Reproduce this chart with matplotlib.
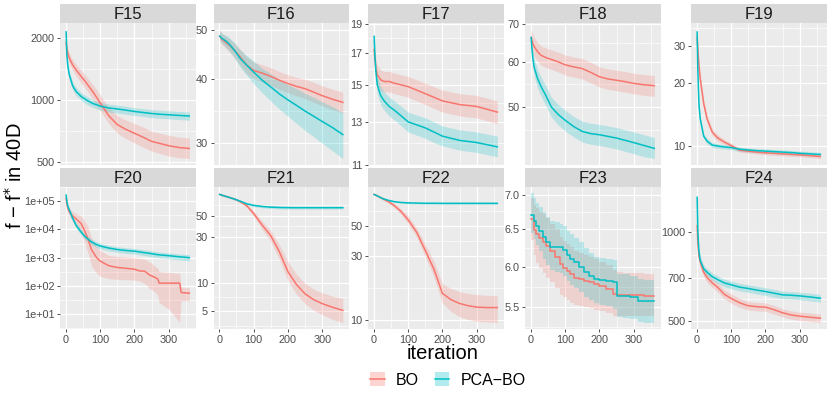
"""
BO vs PCA-BO convergence on F15-F24 (40D), facet grid in ggplot style.
"""
import numpy as np
import matplotlib.pyplot as plt
from matplotlib.lines import Line2D
from matplotlib.patches import Patch
from matplotlib.ticker import FixedLocator, NullFormatter

plt.rcParams['font.family'] = ['Liberation Sans', 'DejaVu Sans']

BO_COLOR = '#F8766D'
PCA_COLOR = '#00BFC4'

# common iteration grid used for most panels
ITER = [1, 3, 6, 10, 20, 30, 45, 60, 80, 100, 125, 150, 175, 200, 225, 250, 275, 300, 330, 360]

# ---- F15
F15_bo = [1900, 1780, 1680, 1600, 1480, 1400, 1300, 1210, 1090, 970, 840, 760, 720, 690, 660, 630, 615, 600, 588, 582]
F15_bo_lo = [1800, 1690, 1590, 1510, 1390, 1310, 1210, 1120, 1000, 890, 770, 690, 650, 620, 590, 565, 550, 535, 525, 520]
F15_bo_hi = [2000, 1870, 1770, 1690, 1570, 1490, 1390, 1300, 1180, 1060, 920, 840, 800, 770, 740, 705, 690, 675, 660, 655]
F15_pca = [2140, 1650, 1450, 1330, 1170, 1100, 1040, 1000, 960, 935, 915, 905, 893, 880, 870, 860, 853, 848, 842, 836]
F15_pca_lo = [2080, 1580, 1380, 1270, 1120, 1050, 995, 955, 920, 895, 875, 865, 853, 842, 832, 822, 815, 810, 804, 798]
F15_pca_hi = [2200, 1720, 1520, 1390, 1220, 1150, 1085, 1045, 1000, 975, 955, 945, 933, 918, 908, 898, 891, 886, 880, 874]

# ---- F16
F16_bo = [48.6, 48.4, 48.1, 47.8, 47.2, 46.6, 45.5, 44.3, 42.6, 41.6, 41.1, 40.5, 39.8, 39.2, 38.7, 38.3, 37.7, 37.1, 36.5, 36.0]
F16_bo_lo = [47.6, 47.3, 47.0, 46.6, 45.9, 45.2, 44.0, 42.7, 41.0, 40.0, 39.5, 38.9, 38.2, 37.6, 37.1, 36.6, 36.0, 35.4, 34.8, 34.3]
F16_bo_hi = [50.1, 49.8, 49.4, 49.0, 48.5, 48.0, 47.0, 45.9, 44.2, 43.2, 42.7, 42.1, 41.4, 40.8, 40.3, 40.0, 39.4, 38.8, 38.2, 37.7]
F16_pca = [48.6, 48.5, 48.2, 48.0, 47.5, 46.8, 45.5, 44.0, 42.6, 41.3, 39.8, 38.6, 37.4, 36.4, 35.5, 34.6, 33.8, 33.0, 32.1, 31.1]
F16_pca_lo = [47.8, 47.6, 47.2, 46.9, 46.2, 45.4, 43.9, 42.3, 40.7, 39.2, 37.6, 36.2, 34.9, 33.8, 32.7, 31.7, 30.8, 29.9, 28.9, 27.9]
F16_pca_hi = [50.0, 49.8, 49.4, 49.1, 48.8, 48.2, 47.1, 45.7, 44.5, 43.4, 42.0, 41.0, 39.9, 39.0, 38.3, 37.5, 36.8, 36.1, 35.3, 34.4]

# ---- F17
F17_bo = [17.2, 16.6, 16.0, 15.6, 15.3, 15.2, 15.2, 15.1, 15.0, 14.9, 14.7, 14.5, 14.3, 14.1, 14.0, 13.9, 13.85, 13.8, 13.65, 13.5]
F17_bo_lo = [16.6, 16.0, 15.4, 15.0, 14.7, 14.6, 14.6, 14.5, 14.4, 14.3, 14.1, 13.9, 13.7, 13.5, 13.4, 13.3, 13.25, 13.2, 13.05, 12.9]
F17_bo_hi = [17.8, 17.2, 16.6, 16.2, 15.9, 15.8, 15.8, 15.7, 15.6, 15.5, 15.3, 15.1, 14.9, 14.7, 14.6, 14.5, 14.45, 14.4, 14.25, 14.1]
F17_pca = [18.1, 16.8, 15.8, 15.0, 14.4, 14.1, 13.8, 13.6, 13.3, 13.0, 12.85, 12.7, 12.5, 12.3, 12.2, 12.1, 12.05, 12.0, 11.9, 11.8]
F17_pca_lo = [17.6, 16.3, 15.3, 14.5, 13.9, 13.6, 13.3, 13.1, 12.8, 12.5, 12.35, 12.2, 12.0, 11.85, 11.75, 11.65, 11.6, 11.55, 11.45, 11.35]
F17_pca_hi = [18.6, 17.3, 16.3, 15.5, 14.9, 14.6, 14.3, 14.1, 13.8, 13.5, 13.35, 13.2, 13.0, 12.8, 12.7, 12.6, 12.55, 12.5, 12.4, 12.3]

# ---- F18
F18_bo = [66.2, 65.5, 64.6, 63.8, 62.5, 61.6, 61.0, 60.6, 60.0, 59.3, 58.8, 58.4, 57.5, 56.5, 56.0, 55.7, 55.4, 55.0, 54.7, 54.5]
F18_bo_lo = [64.0, 63.2, 62.2, 61.4, 60.1, 59.2, 58.6, 58.2, 57.6, 56.9, 56.4, 56.0, 55.1, 54.2, 53.7, 53.4, 53.1, 52.7, 52.4, 52.2]
F18_bo_hi = [68.4, 67.8, 67.0, 66.2, 64.9, 64.0, 63.4, 63.0, 62.4, 61.7, 61.2, 60.8, 59.9, 58.8, 58.3, 58.0, 57.7, 57.3, 57.0, 56.8]
F18_pca = [66.2, 63.5, 60.8, 58.6, 56.0, 54.3, 52.2, 50.0, 48.5, 47.4, 46.2, 45.3, 44.9, 44.7, 44.4, 44.1, 43.7, 43.3, 42.8, 42.3]
F18_pca_lo = [65.0, 62.0, 59.0, 56.6, 53.9, 52.2, 50.1, 48.0, 46.5, 45.4, 44.3, 43.4, 43.0, 42.8, 42.5, 42.2, 41.8, 41.4, 40.9, 40.6]
F18_pca_hi = [67.4, 65.0, 62.6, 60.6, 58.1, 56.4, 54.3, 52.0, 50.5, 49.4, 48.1, 47.2, 46.8, 46.6, 46.3, 46.0, 45.6, 45.2, 44.7, 44.2]

# ---- F19
F19_bo = [33.0, 29.0, 24.5, 21.0, 16.0, 13.5, 11.7, 11.0, 10.5, 10.1, 9.6, 9.5, 9.4, 9.33, 9.28, 9.22, 9.17, 9.13, 9.05, 8.96]
F19_bo_lo = [32.0, 28.0, 23.6, 20.2, 15.3, 12.9, 11.3, 10.6, 10.2, 9.85, 9.38, 9.3, 9.2, 9.13, 9.08, 9.02, 8.97, 8.93, 8.85, 8.76]
F19_bo_hi = [34.0, 30.0, 25.4, 21.8, 16.7, 14.1, 12.1, 11.4, 10.8, 10.35, 9.82, 9.7, 9.6, 9.53, 9.48, 9.42, 9.37, 9.33, 9.25, 9.16]
F19_pca = [35.0, 23.0, 16.0, 13.5, 11.2, 10.6, 10.15, 10.05, 9.95, 9.88, 9.7, 9.62, 9.55, 9.5, 9.45, 9.4, 9.35, 9.28, 9.22, 9.16]
F19_pca_lo = [34.0, 22.2, 15.4, 13.0, 10.9, 10.3, 9.9, 9.8, 9.72, 9.65, 9.48, 9.4, 9.33, 9.28, 9.23, 9.18, 9.13, 9.06, 9.0, 8.94]
F19_pca_hi = [36.0, 23.8, 16.6, 14.0, 11.5, 10.9, 10.4, 10.3, 10.18, 10.1, 9.92, 9.84, 9.77, 9.72, 9.67, 9.62, 9.57, 9.5, 9.44, 9.38]

# ---- F20 (own grid, BO has hard drops)
F20_it = [1, 3, 6, 10, 20, 30, 45, 55, 65, 75, 90, 100, 125, 150, 175, 200, 215, 230, 245, 260, 268, 272, 300, 332, 336, 360]
F20_bo = [1.3e5, 8e4, 5.5e4, 4.2e4, 3.0e4, 2.4e4, 1.6e4, 9e3, 4.5e3, 1.9e3, 1.0e3, 760, 520, 450, 420, 390, 340, 330, 240, 200, 175, 125, 125, 125, 58, 55]
F20_bo_lo = [1.1e5, 6.5e4, 4.2e4, 3.0e4, 1.9e4, 1.4e4, 7e3, 3.5e3, 1.4e3, 500, 280, 220, 180, 170, 165, 160, 150, 120, 80, 60, 45, 25, 15, 5, 30, 30]
F20_bo_hi = [1.5e5, 9.5e4, 7e4, 5.6e4, 4.3e4, 3.7e4, 3.0e4, 2.0e4, 1.2e4, 5e3, 2.4e3, 1.8e3, 1.2e3, 1.1e3, 1.05e3, 1.0e3, 950, 900, 700, 500, 420, 320, 300, 280, 90, 88]
F20_pca = [1.66e5, 1.0e5, 6.5e4, 5e4, 2.5e4, 1.4e4, 8e3, 5.8e3, 4.5e3, 3.6e3, 2.9e3, 2.6e3, 2.2e3, 1.95e3, 1.8e3, 1.7e3, 1.6e3, 1.5e3, 1.42e3, 1.32e3, 1.28e3, 1.26e3, 1.18e3, 1.07e3, 1.06e3, 1.0e3]
F20_pca_lo = [1.4e5, 8.2e4, 5.3e4, 4.0e4, 2.0e4, 1.1e4, 6.4e3, 4.6e3, 3.6e3, 2.9e3, 2.3e3, 2.05e3, 1.75e3, 1.55e3, 1.42e3, 1.34e3, 1.26e3, 1.18e3, 1.11e3, 1.03e3, 1.0e3, 980, 920, 830, 820, 770]
F20_pca_hi = [1.9e5, 1.2e5, 8.0e4, 6.2e4, 3.1e4, 1.75e4, 1.0e4, 7.3e3, 5.6e3, 4.5e3, 3.6e3, 3.25e3, 2.75e3, 2.45e3, 2.25e3, 2.13e3, 2.0e3, 1.88e3, 1.78e3, 1.66e3, 1.61e3, 1.58e3, 1.48e3, 1.35e3, 1.34e3, 1.28e3]

# ---- F21
F21_bo = [84, 83.5, 82.8, 82, 80, 78, 75, 71, 64, 53, 40, 31, 21, 13, 9.5, 7.6, 6.6, 6.0, 5.5, 5.1]
F21_bo_lo = [82, 81.5, 80.8, 80, 78, 76, 73, 68.5, 61, 49.5, 36, 27, 17.5, 10.5, 7.5, 6.0, 5.1, 4.6, 4.1, 3.8]
F21_bo_hi = [86, 85.5, 84.8, 84, 82, 80, 77, 73.5, 67, 56.5, 44, 35, 25, 16.5, 12.2, 9.8, 8.5, 7.8, 7.2, 6.8]
F21_pca = [84, 83.5, 83, 82, 80, 78, 75, 71.5, 67, 64.5, 62.8, 61.8, 61.3, 61.1, 61.0, 61.0, 61.0, 61.0, 61.0, 61.0]
F21_pca_lo = [82.5, 82, 81.5, 80.5, 78.5, 76.5, 73.3, 69.7, 65, 62.5, 60.8, 59.8, 59.3, 59.1, 59.0, 59.0, 59.0, 59.0, 59.0, 59.0]
F21_pca_hi = [85.5, 85, 84.5, 83.5, 81.5, 79.5, 76.7, 73.3, 69, 66.5, 64.8, 63.8, 63.3, 63.1, 63.0, 63.0, 63.0, 63.0, 63.0, 63.2]

# ---- F22
F22_bo = [86, 85.5, 84.8, 84, 81.5, 79, 75.5, 71, 64, 55.7, 45, 33, 24, 15.8, 14.2, 13.3, 12.8, 12.5, 12.4, 12.4]
F22_bo_lo = [84.5, 84, 83.2, 82.3, 79.7, 77, 73.3, 68.5, 61, 52, 41.5, 29.5, 21, 13.4, 11.6, 10.6, 10.1, 9.8, 9.7, 9.6]
F22_bo_hi = [87.5, 87, 86.3, 85.7, 83.3, 81, 77.7, 73.5, 67, 59.5, 48.5, 36.5, 27.5, 18.6, 17.2, 16.3, 15.8, 15.5, 15.3, 15.2]
F22_pca = [86, 85.5, 85, 84, 81.5, 79.5, 77.5, 76, 75, 74.5, 74.2, 74, 74, 73.9, 73.9, 73.9, 73.9, 73.9, 73.9, 73.9]
F22_pca_lo = [85, 84.5, 84, 83, 80.5, 78.5, 76.5, 75, 74, 73.5, 73.2, 73, 73, 72.9, 72.9, 72.9, 72.9, 72.9, 72.9, 72.9]
F22_pca_hi = [87, 86.5, 86, 85, 82.5, 80.5, 78.5, 77, 76, 75.5, 75.2, 75, 75, 74.9, 74.9, 74.9, 74.9, 74.9, 74.9, 74.9]

# ---- F23 (own grid, drawn as steps)
F23_it = [1, 8, 16, 25, 35, 45, 55, 70, 85, 95, 105, 115, 125, 140, 155, 170, 185, 200, 220, 240, 250, 270, 290, 312, 330, 360]
F23_bo = [6.64, 6.49, 6.43, 6.38, 6.33, 6.27, 6.20, 6.12, 6.03, 5.98, 5.94, 5.90, 5.85, 5.84, 5.82, 5.81, 5.78, 5.75, 5.72, 5.66, 5.64, 5.64, 5.64, 5.64, 5.63, 5.63]
F23_bo_lo = [6.35, 6.15, 6.05, 5.98, 5.92, 5.86, 5.80, 5.73, 5.65, 5.62, 5.58, 5.55, 5.52, 5.51, 5.50, 5.49, 5.47, 5.45, 5.43, 5.40, 5.40, 5.40, 5.40, 5.40, 5.40, 5.40]
F23_bo_hi = [6.95, 6.85, 6.80, 6.75, 6.72, 6.66, 6.58, 6.50, 6.40, 6.34, 6.30, 6.26, 6.20, 6.18, 6.15, 6.13, 6.10, 6.06, 6.02, 5.95, 5.93, 5.92, 5.92, 5.92, 5.90, 5.90]
F23_pca = [6.70, 6.62, 6.55, 6.48, 6.40, 6.33, 6.26, 6.26, 6.26, 6.22, 6.15, 6.10, 6.06, 6.00, 5.93, 5.88, 5.84, 5.83, 5.82, 5.80, 5.63, 5.63, 5.62, 5.57, 5.57, 5.57]
F23_pca_lo = [6.45, 6.37, 6.28, 6.20, 6.10, 6.02, 5.95, 5.93, 5.92, 5.88, 5.82, 5.77, 5.73, 5.68, 5.62, 5.58, 5.55, 5.53, 5.51, 5.48, 5.38, 5.37, 5.36, 5.33, 5.32, 5.32]
F23_pca_hi = [7.02, 6.95, 6.88, 6.82, 6.75, 6.68, 6.62, 6.60, 6.58, 6.55, 6.48, 6.43, 6.38, 6.32, 6.25, 6.18, 6.13, 6.11, 6.10, 6.08, 5.90, 5.90, 5.88, 5.84, 5.83, 5.83]

# ---- F24
F24_bo = [1050, 920, 830, 790, 730, 700, 672, 650, 615, 595, 575, 562, 558, 556, 545, 532, 523, 518, 514, 510]
F24_bo_lo = [1010, 885, 800, 762, 705, 675, 648, 627, 593, 573, 555, 543, 540, 538, 527, 515, 506, 501, 497, 493]
F24_bo_hi = [1090, 955, 860, 818, 755, 725, 696, 673, 637, 617, 595, 581, 577, 575, 563, 549, 540, 535, 531, 527]
F24_pca = [1310, 1000, 860, 800, 750, 730, 705, 690, 672, 662, 650, 643, 635, 628, 620, 612, 610, 607, 602, 596]
F24_pca_lo = [1270, 965, 830, 775, 728, 709, 685, 670, 652, 642, 631, 624, 616, 609, 601, 594, 592, 589, 584, 578]
F24_pca_hi = [1350, 1035, 890, 825, 772, 751, 725, 710, 692, 682, 669, 662, 654, 647, 639, 630, 628, 625, 620, 614]

# y-axis breaks per panel
F15_ticks = [500, 1000, 2000]
F16_ticks = [30, 40, 50]
F17_ticks = [11, 13, 15, 17, 19]
F18_ticks = [50, 60, 70]
F19_ticks = [10, 20, 30]
F20_ticks = [1e1, 1e2, 1e3, 1e4, 1e5]
F20_labels = ['1e+01', '1e+02', '1e+03', '1e+04', '1e+05']
F21_ticks = [5, 10, 30, 50]
F22_ticks = [10, 30, 50]
F23_ticks = [5.5, 6.0, 6.5, 7.0]
F23_labels = ['5.5', '6.0', '6.5', '7.0']
F24_ticks = [500, 700, 1000]
X_TICKS = [0, 100, 200, 300]
X_MINOR = [50, 150, 250, 350]

PANELS = [
    ('F15', ITER, F15_bo, F15_bo_lo, F15_bo_hi, F15_pca, F15_pca_lo, F15_pca_hi, F15_ticks, None, False),
    ('F16', ITER, F16_bo, F16_bo_lo, F16_bo_hi, F16_pca, F16_pca_lo, F16_pca_hi, F16_ticks, None, False),
    ('F17', ITER, F17_bo, F17_bo_lo, F17_bo_hi, F17_pca, F17_pca_lo, F17_pca_hi, F17_ticks, None, False),
    ('F18', ITER, F18_bo, F18_bo_lo, F18_bo_hi, F18_pca, F18_pca_lo, F18_pca_hi, F18_ticks, None, False),
    ('F19', ITER, F19_bo, F19_bo_lo, F19_bo_hi, F19_pca, F19_pca_lo, F19_pca_hi, F19_ticks, None, False),
    ('F20', F20_it, F20_bo, F20_bo_lo, F20_bo_hi, F20_pca, F20_pca_lo, F20_pca_hi, F20_ticks, F20_labels, False),
    ('F21', ITER, F21_bo, F21_bo_lo, F21_bo_hi, F21_pca, F21_pca_lo, F21_pca_hi, F21_ticks, None, False),
    ('F22', ITER, F22_bo, F22_bo_lo, F22_bo_hi, F22_pca, F22_pca_lo, F22_pca_hi, F22_ticks, None, False),
    ('F23', F23_it, F23_bo, F23_bo_lo, F23_bo_hi, F23_pca, F23_pca_lo, F23_pca_hi, F23_ticks, F23_labels, True),
    ('F24', ITER, F24_bo, F24_bo_lo, F24_bo_hi, F24_pca, F24_pca_lo, F24_pca_hi, F24_ticks, None, False),
]

W, H = 830, 393
fig = plt.figure(figsize=(W / 100, H / 100), dpi=100)

# layout in pixels
col_left = [60, 213.5, 368, 525, 691]
panel_w = 135.5
row_top = [23, 187]
panel_h = 142
strip_h = 19


def draw_panel(ax, it, bo, bo_lo, bo_hi, pca, pca_lo, pca_hi, ticks, labels, step, bottom_row):
    ds = 'steps-post' if step else 'default'
    fs = 'post' if step else None
    ax.set_facecolor('#EBEBEB')
    ax.fill_between(it, bo_lo, bo_hi, color=BO_COLOR, alpha=0.22, lw=0, step=fs)
    ax.plot(it, bo, color=BO_COLOR, lw=1.1, drawstyle=ds)
    ax.fill_between(it, pca_lo, pca_hi, color=PCA_COLOR, alpha=0.22, lw=0, step=fs)
    ax.plot(it, pca, color=PCA_COLOR, lw=1.1, drawstyle=ds)

    ax.set_yscale('log')
    # ggplot-like 5% expansion in transformed space
    lo = np.log10(min(min(bo_lo), min(pca_lo)))
    hi = np.log10(max(max(bo_hi), max(pca_hi)))
    pad = 0.05 * (hi - lo)
    ax.set_ylim(10 ** (lo - pad), 10 ** (hi + pad))
    xpad = 0.05 * (it[-1] - it[0])
    ax.set_xlim(it[0] - xpad, it[-1] + xpad)

    if labels is None:
        labels = [str(t) for t in ticks]
    ax.set_yticks(ticks, labels)
    lt = np.log10(ticks)
    mids = list((lt[:-1] + lt[1:]) / 2)
    mids += [lt[0] - (lt[1] - lt[0]) / 2, lt[-1] + (lt[-1] - lt[-2]) / 2]
    ax.yaxis.set_minor_locator(FixedLocator([10 ** m for m in mids]))
    ax.yaxis.set_minor_formatter(NullFormatter())

    ax.set_xticks(X_TICKS)
    ax.xaxis.set_minor_locator(FixedLocator(X_MINOR))

    ax.grid(which='major', color='white', lw=0.9)
    ax.grid(which='minor', color='white', lw=0.45)
    ax.set_axisbelow(True)
    for s in ax.spines.values():
        s.set_visible(False)
    ax.tick_params(which='major', length=2.5, width=0.6, color='#333333',
                   labelcolor='#4D4D4D', labelsize=7.8, pad=1.5)
    ax.tick_params(which='minor', length=0)
    if not bottom_row:
        ax.tick_params(axis='x', which='major', length=0, labelbottom=False)


for i, (name, it, bo, bo_lo, bo_hi, pca, pca_lo, pca_hi, ticks, labels, step) in enumerate(PANELS):
    r, c = divmod(i, 5)
    left = col_left[c] / W
    bottom = 1 - (row_top[r] + panel_h) / H
    ax = fig.add_axes([left, bottom, panel_w / W, panel_h / H])
    draw_panel(ax, it, bo, bo_lo, bo_hi, pca, pca_lo, pca_hi, ticks, labels, step, r == 1)

    sax = fig.add_axes([left, 1 - row_top[r] / H, panel_w / W, strip_h / H])
    sax.set_facecolor('#D9D9D9')
    sax.set_xticks([])
    sax.set_yticks([])
    for s in sax.spines.values():
        s.set_visible(False)
    sax.text(0.5, 0.45, name, ha='center', va='center', fontsize=12, color='#1A1A1A',
             transform=sax.transAxes)

fig.text(443 / W, 1 - 359 / H, 'iteration', ha='center', va='baseline', fontsize=14.5)
fig.text(15 / W, 1 - 176 / H, 'f \u2212 f$^{*}$ in 40D', ha='center', va='center',
         rotation=90, fontsize=14.5)

handles = [
    (Patch(facecolor=BO_COLOR, alpha=0.3, lw=0), Line2D([], [], color=BO_COLOR, lw=1.1)),
    (Patch(facecolor=PCA_COLOR, alpha=0.3, lw=0), Line2D([], [], color=PCA_COLOR, lw=1.1)),
]
fig.legend(handles, ['BO', 'PCA\u2212BO'], loc='center', bbox_to_anchor=(448 / W, 1 - 380 / H),
           ncol=2, frameon=False, fontsize=11.5, handlelength=0.9, handleheight=0.9,
           columnspacing=1.0, handletextpad=0.7)

fig.savefig('out.png', dpi=100)
plt.close(fig)
